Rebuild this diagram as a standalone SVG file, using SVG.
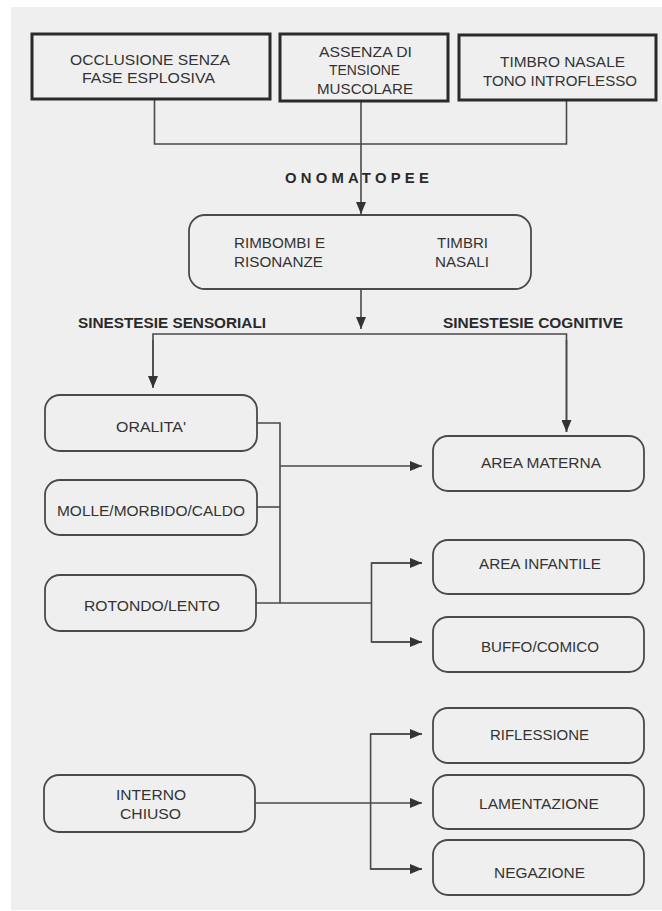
<svg xmlns="http://www.w3.org/2000/svg" width="662" height="911" viewBox="0 0 662 911">
  <style>
    .page { fill: #efefef; }
    .hard { fill: none; stroke: #2b2b2b; stroke-width: 3; }
    .soft { fill: none; stroke: #4a4a4a; stroke-width: 1.8; }
    .wire { fill: none; stroke: #4a4a4a; stroke-width: 1.6; }
    .lbl { font-family: "Liberation Sans", Arial, sans-serif; font-size: 15px; fill: #333333; text-anchor: middle; }
    .sm { font-size: 14px; }
    .head { font-family: "Liberation Sans", Arial, sans-serif; font-weight: bold; font-size: 14px; fill: #2a2a2a; text-anchor: middle; }
  </style>
  <defs>
    <marker id="tip" viewBox="0 0 12 10" refX="12" refY="5" markerWidth="12" markerHeight="10" markerUnits="userSpaceOnUse" orient="auto">
      <path d="M0,0 L12,5 L0,10 Z" fill="#333"/>
    </marker>
  </defs>

  <rect width="662" height="911" fill="#ffffff"/>
  <rect class="page" x="11" y="7" width="651" height="903"/>

  <!-- connectors -->
  <g id="connectors">
    <path class="wire" d="M154.5,99 V144 H566.5 V100"/>
    <path class="wire" d="M361,101 V214" marker-end="url(#tip)"/>
    <path class="wire" d="M361,289 V329" marker-end="url(#tip)"/>
    <path class="wire" d="M153,387 V334 H566.5 V432"/>
    <path class="wire" d="M153,340 V388" marker-end="url(#tip)"/>
    <path class="wire" d="M566.5,340 V432" marker-end="url(#tip)"/>
    <path class="wire" d="M257,423 H280 V603"/>
    <path class="wire" d="M257,507 H280"/>
    <path class="wire" d="M280,466 H422" marker-end="url(#tip)"/>
    <path class="wire" d="M256,603 H371.5"/>
    <path class="wire" d="M422,563 H371.5 V642 H422"/>
    <path class="wire" d="M371.5,563 H422" marker-end="url(#tip)"/>
    <path class="wire" d="M371.5,642 H422" marker-end="url(#tip)"/>
    <path class="wire" d="M255,803 H422" marker-end="url(#tip)"/>
    <path class="wire" d="M422,734 H370.6 V869 H422"/>
    <path class="wire" d="M370.6,734 H422" marker-end="url(#tip)"/>
    <path class="wire" d="M370.6,869 H422" marker-end="url(#tip)"/>
  </g>

  <!-- section headings -->
  <text class="head" x="359" y="183" font-size="13" letter-spacing="4" textLength="148" lengthAdjust="spacingAndGlyphs">ONOMATOPEE</text>
  <text class="head" x="172" y="328" textLength="188" lengthAdjust="spacingAndGlyphs">SINESTESIE SENSORIALI</text>
  <text class="head" x="533" y="328" textLength="180" lengthAdjust="spacingAndGlyphs">SINESTESIE COGNITIVE</text>

  <!-- source features -->
  <g id="occlusione">
    <rect class="hard" x="32" y="34" width="238" height="65"/>
    <text class="lbl" x="150" y="65" textLength="160" lengthAdjust="spacingAndGlyphs">OCCLUSIONE SENZA</text>
    <text class="lbl" x="148.5" y="83" textLength="133" lengthAdjust="spacingAndGlyphs">FASE ESPLOSIVA</text>
  </g>
  <g id="assenza">
    <rect class="hard" x="280" y="34" width="168" height="67"/>
    <text class="lbl" x="365.5" y="57" textLength="93" lengthAdjust="spacingAndGlyphs">ASSENZA DI</text>
    <text class="lbl" x="364.5" y="75" textLength="71" lengthAdjust="spacingAndGlyphs">TENSIONE</text>
    <text class="lbl" x="365" y="94" textLength="96" lengthAdjust="spacingAndGlyphs">MUSCOLARE</text>
  </g>
  <g id="timbro">
    <rect class="hard" x="459" y="35" width="197" height="65"/>
    <text class="lbl" x="562.5" y="67" textLength="125" lengthAdjust="spacingAndGlyphs">TIMBRO NASALE</text>
    <text class="lbl" x="560" y="86" textLength="154" lengthAdjust="spacingAndGlyphs">TONO INTROFLESSO</text>
  </g>

  <!-- onomatopoeia -->
  <g id="rimbombi">
    <rect class="soft" x="189" y="215" width="342" height="74" rx="16"/>
    <text class="lbl sm" x="279.5" y="247.5" textLength="91" lengthAdjust="spacingAndGlyphs">RIMBOMBI E</text>
    <text class="lbl sm" x="278.5" y="266.5" textLength="89" lengthAdjust="spacingAndGlyphs">RISONANZE</text>
    <text class="lbl sm" x="462.5" y="247.5" textLength="51" lengthAdjust="spacingAndGlyphs">TIMBRI</text>
    <text class="lbl sm" x="462" y="266.5" textLength="54" lengthAdjust="spacingAndGlyphs">NASALI</text>
  </g>

  <!-- sensory synaesthesia -->
  <g id="oralita">
    <rect class="soft" x="45" y="395" width="212" height="56" rx="15"/>
    <text class="lbl sm" x="151" y="431.5" textLength="70" lengthAdjust="spacingAndGlyphs">ORALITA'</text>
  </g>
  <g id="molle">
    <rect class="soft" x="45" y="480" width="212" height="55" rx="15"/>
    <text class="lbl sm" x="151" y="515.5" textLength="188" lengthAdjust="spacingAndGlyphs">MOLLE/MORBIDO/CALDO</text>
  </g>
  <g id="rotondo">
    <rect class="soft" x="45" y="575" width="211" height="56" rx="15"/>
    <text class="lbl sm" x="152" y="610.5" textLength="136" lengthAdjust="spacingAndGlyphs">ROTONDO/LENTO</text>
  </g>
  <g id="interno">
    <rect class="soft" x="44" y="775" width="211" height="57" rx="15"/>
    <text class="lbl sm" x="151" y="799.5" textLength="70" lengthAdjust="spacingAndGlyphs">INTERNO</text>
    <text class="lbl sm" x="150.5" y="818.5" textLength="61" lengthAdjust="spacingAndGlyphs">CHIUSO</text>
  </g>

  <!-- cognitive synaesthesia -->
  <g id="area-materna">
    <rect class="soft" x="433" y="436" width="211" height="55" rx="15"/>
    <text class="lbl sm" x="541" y="467.5" textLength="120" lengthAdjust="spacingAndGlyphs">AREA MATERNA</text>
  </g>
  <g id="area-infantile">
    <rect class="soft" x="433" y="540" width="211" height="54" rx="15"/>
    <text class="lbl sm" x="540" y="568.5" textLength="122" lengthAdjust="spacingAndGlyphs">AREA INFANTILE</text>
  </g>
  <g id="buffo">
    <rect class="soft" x="433" y="617" width="211" height="55" rx="15"/>
    <text class="lbl sm" x="540" y="651.5" textLength="118" lengthAdjust="spacingAndGlyphs">BUFFO/COMICO</text>
  </g>
  <g id="riflessione">
    <rect class="soft" x="433" y="708" width="211" height="55" rx="15"/>
    <text class="lbl sm" x="539.5" y="739.5" textLength="99" lengthAdjust="spacingAndGlyphs">RIFLESSIONE</text>
  </g>
  <g id="lamentazione">
    <rect class="soft" x="433" y="775" width="211" height="54" rx="15"/>
    <text class="lbl sm" x="539" y="808.5" textLength="120" lengthAdjust="spacingAndGlyphs">LAMENTAZIONE</text>
  </g>
  <g id="negazione">
    <rect class="soft" x="433" y="840" width="211" height="55" rx="15"/>
    <text class="lbl sm" x="539.5" y="877.5" textLength="91" lengthAdjust="spacingAndGlyphs">NEGAZIONE</text>
  </g>
</svg>
